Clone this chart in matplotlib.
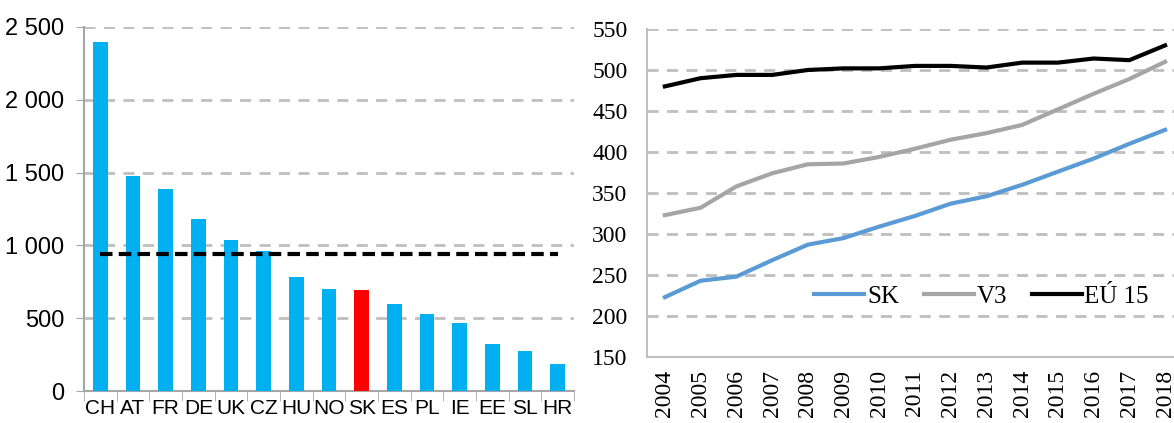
import numpy as np
import matplotlib.pyplot as plt
from matplotlib.ticker import FixedLocator

countries = ["CH", "AT", "FR", "DE", "UK", "CZ", "HU", "NO", "SK", "ES", "PL", "IE", "EE", "SL", "HR"]
values = [2400, 1480, 1390, 1180, 1040, 960, 785, 700, 695, 600, 530, 470, 320, 275, 185]
average = 940
left_ticks = [0, 500, 1000, 1500, 2000, 2500]
left_labels = ["0", "500", "1 000", "1 500", "2 000", "2 500"]

years = list(range(2004, 2019))
sk = [223, 243, 248, 268, 287, 295, 309, 322, 337, 346, 360, 376, 392, 410, 427]
v3 = [323, 332, 358, 374, 385, 386, 394, 404, 415, 423, 433, 452, 471, 489, 510]
eu15 = [480, 490, 494, 494, 500, 502, 502, 505, 505, 503, 509, 509, 514, 512, 530]

W, H = 1174, 423
fig = plt.figure(figsize=(W / 100, H / 100), dpi=100)

sans = ["Liberation Sans Narrow", "Liberation Sans", "DejaVu Sans"]
serif = ["Liberation Serif", "DejaVu Serif"]
grid_c = "#BFBFBF"
spine_c = "#A6A6A6"

# left: bar chart
ax1 = fig.add_axes([84 / W, 1 - 391 / H, (574 - 84) / W, (391 - 27) / H])
x = np.arange(len(countries))
colors = ["#FF0000" if c == "SK" else "#00B0F0" for c in countries]
ax1.bar(x, values, width=0.45, color=colors, zorder=3)
ax1.plot([x[0], x[-1]], [average, average], color="black", lw=3, ls=(0, (3, 1.5)), zorder=4)
ax1.set_xlim(-0.5, len(countries) - 0.5)
ax1.set_ylim(0, 2500)
ax1.set_yticks(left_ticks)
ax1.set_yticklabels(left_labels, family=sans, fontsize=17)
for t in left_ticks[1:]:
    ax1.axhline(t, color=grid_c, lw=2, ls=(0, (4, 3)), zorder=1)
ax1.set_xticks(x)
ax1.set_xticklabels(countries, family=sans, fontsize=15)
ax1.xaxis.set_minor_locator(FixedLocator(np.arange(-0.5, len(countries), 1)))
ax1.tick_params(axis="x", which="major", length=0, pad=6)
ax1.tick_params(axis="x", which="minor", length=7, color=spine_c, direction="out")
ax1.tick_params(axis="y", length=6, color=spine_c, pad=8)
for s in ["top", "right"]:
    ax1.spines[s].set_visible(False)
for s in ["left", "bottom"]:
    ax1.spines[s].set_color(spine_c)
    ax1.spines[s].set_linewidth(1.5)

# right: line chart
ax2 = fig.add_axes([647 / W, 1 - 357 / H, (W - 647) / W, (357 - 29) / H])
ax2.plot(years, sk, color="#5B9BD5", lw=3, label="SK", zorder=3)
ax2.plot(years, v3, color="#A5A5A5", lw=3, label="V3", zorder=3)
ax2.plot(years, eu15, color="black", lw=3, label="EÚ 15", zorder=3)
ax2.set_xlim(2003.5, 2018.25)
ax2.set_ylim(150, 550)
ax2.set_yticks(range(150, 551, 50))
ax2.set_yticklabels([str(v) for v in range(150, 551, 50)], family=serif, fontsize=17)
for t in range(200, 551, 50):
    ax2.axhline(t, color=grid_c, lw=2, ls=(0, (4, 3)), zorder=1)
ax2.set_xticks(years)
ax2.set_xticklabels([str(y) for y in years], family=serif, fontsize=17, rotation=90)
ax2.tick_params(axis="y", length=0, pad=14)
ax2.tick_params(axis="x", length=0, pad=9)
for s in ["top", "right"]:
    ax2.spines[s].set_visible(False)
for s in ["left", "bottom"]:
    ax2.spines[s].set_color(grid_c)
    ax2.spines[s].set_linewidth(1.5)
ax2.legend(loc="center", bbox_to_anchor=(0.635, 0.183), ncol=3, frameon=False,
           prop={"family": serif, "size": 18}, handlelength=2.0, handletextpad=0.1,
           columnspacing=1.0)

fig.savefig("out.png", dpi=100)
